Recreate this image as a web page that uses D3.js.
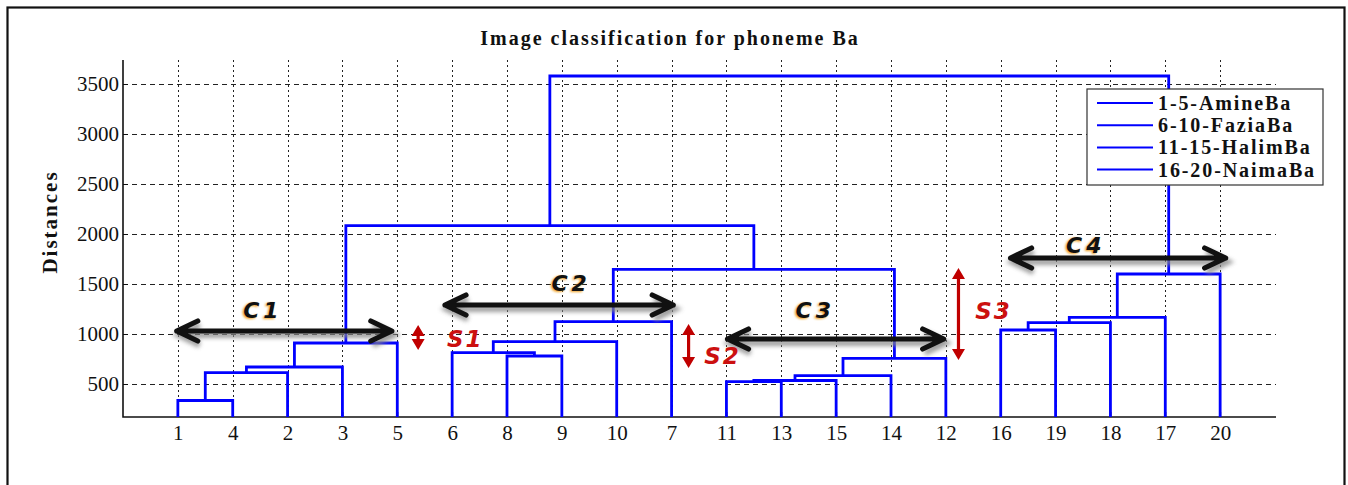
<!DOCTYPE html>
<html>
<head>
<meta charset="utf-8">
<script src="https://cdn.jsdelivr.net/npm/d3@7"></script>
<style>
  body { margin: 0; background: #fff; }
  svg { display: block; }
</style>
</head>
<body>
<script>
// leaf order along the x axis
var leafOrder = [1, 4, 2, 3, 5, 6, 8, 9, 10, 7, 11, 13, 15, 14, 12, 16, 19, 18, 17, 20];

// linkage: node 21 + i joins mergeA[i] and mergeB[i] at mergeHeight[i]
var mergeA = [1, 21, 22, 23, 8, 6, 26, 27, 11, 29, 30, 31, 28, 24, 16, 35, 36, 37, 34];
var mergeB = [4, 2, 3, 5, 9, 25, 10, 7, 13, 15, 14, 12, 32, 33, 19, 18, 17, 20, 38];
var mergeHeight = [335, 613, 670, 910, 780, 813, 923, 1123, 523, 535, 583, 757, 1647, 2083, 1040, 1113, 1167, 1600, 3580];

var yTicks = [500, 1000, 1500, 2000, 2500, 3000, 3500];
var legendLabels = ['1-5-AmineBa', '6-10-FaziaBa', '11-15-HalimBa', '16-20-NaimaBa'];

// cluster annotations (leaf-position units, distance units)
var clusterNames = ['C1', 'C2', 'C3', 'C4'];
var clusterFrom = [0.98, 5.87, 11.02, 16.18];
var clusterTo = [4.9, 10.03, 14.96, 20.1];
var clusterAt = [1030, 1290, 950, 1760];
var clusterLabelX = [2.55, 8.17, 12.62, 17.55];
var clusterLabelY = [1240, 1510, 1240, 1890];

var sepNames = ['S1', 'S2', 'S3'];
var sepX = [5.38, 10.31, 15.23];
var sepTop = [1090, 1100, 1660];
var sepBottom = [840, 660, 740];
var sepLabelX = [6.24, 10.93, 15.87];
var sepLabelY = [950, 780, 1230];

var W = 1348, H = 485;
var svg = d3.select('body').append('svg')
  .attr('width', W)
  .attr('height', H);

var defs = svg.append('defs');
defs.append('filter').attr('id', 'shadow')
  .attr('x', '-10%').attr('y', '-100%').attr('width', '120%').attr('height', '300%')
  .append('feGaussianBlur').attr('stdDeviation', 2.2);
defs.append('filter').attr('id', 'soft')
  .append('feGaussianBlur').attr('stdDeviation', 0.8);

// outer frame
svg.append('rect')
  .attr('x', 7.5).attr('y', 7.5)
  .attr('width', 1337).attr('height', 490)
  .attr('fill', 'white')
  .attr('stroke', '#111')
  .attr('stroke-width', 2.2);

var plotLeft = 123, plotRight = 1276, plotTop = 60, plotBottom = 417;

var x = d3.scaleLinear().domain([0, 21]).range([plotLeft, 1275]);
var y = d3.scaleLinear().domain([170, 3740]).range([plotBottom, plotTop]);

var serif = '"Liberation Serif", "Times New Roman", serif';

// grid
var grid = svg.append('g').attr('stroke', '#222').attr('stroke-width', 1);
grid.selectAll('line.h')
  .data(yTicks)
  .enter().append('line')
  .attr('class', 'h')
  .attr('x1', plotLeft).attr('x2', plotRight)
  .attr('y1', function (d) { return Math.round(y(d)) + 0.5; })
  .attr('y2', function (d) { return Math.round(y(d)) + 0.5; })
  .attr('stroke-dasharray', '5,4');
grid.selectAll('line.v')
  .data(leafOrder)
  .enter().append('line')
  .attr('class', 'v')
  .attr('x1', function (d, i) { return Math.round(x(i + 1)) + 0.5; })
  .attr('x2', function (d, i) { return Math.round(x(i + 1)) + 0.5; })
  .attr('y1', plotTop).attr('y2', plotBottom)
  .attr('stroke-dasharray', '2,3');

// axes
var yAxis = svg.append('g')
  .attr('transform', 'translate(' + plotLeft + ',0)')
  .call(d3.axisLeft(y).tickValues(yTicks).tickFormat(d3.format('d')).tickSize(-5).tickPadding(4));
var xAxis = svg.append('g')
  .attr('transform', 'translate(0,' + plotBottom + ')')
  .call(d3.axisBottom(x)
    .tickValues(d3.range(1, leafOrder.length + 1))
    .tickFormat(function (d) { return leafOrder[d - 1]; })
    .tickSize(-5).tickPadding(8));
[yAxis, xAxis].forEach(function (a) {
  a.select('.domain').remove();
  a.selectAll('.tick line').attr('stroke', '#111');
  a.selectAll('text')
    .attr('fill', '#111')
    .style('font-family', serif)
    .style('font-size', '21px');
});
svg.append('path')
  .attr('d', 'M' + plotLeft + ',' + plotTop + 'V' + plotBottom + 'H' + plotRight)
  .attr('fill', 'none')
  .attr('stroke', '#111')
  .attr('stroke-width', 1.6);

// dendrogram nodes
var nodeX = {}, nodeH = {};
leafOrder.forEach(function (leaf, i) {
  nodeX[leaf] = i + 1;
  nodeH[leaf] = y.domain()[0];
});
mergeA.forEach(function (a, i) {
  var b = mergeB[i], id = 21 + i;
  nodeX[id] = (nodeX[a] + nodeX[b]) / 2;
  nodeH[id] = mergeHeight[i];
});

svg.append('g')
  .selectAll('path')
  .data(mergeA)
  .enter().append('path')
  .attr('d', function (a, i) {
    var b = mergeB[i], h = mergeHeight[i];
    return 'M' + x(nodeX[a]) + ',' + y(nodeH[a]) +
      'V' + y(h) + 'H' + x(nodeX[b]) + 'V' + y(nodeH[b]);
  })
  .attr('fill', 'none')
  .attr('stroke', '#0000ff')
  .attr('stroke-width', 2.8)
  .attr('stroke-linejoin', 'miter');

// title
svg.append('text')
  .attr('x', 670)
  .attr('y', 45)
  .attr('text-anchor', 'middle')
  .style('font-family', serif)
  .style('font-weight', 'bold')
  .style('font-size', '20px')
  .style('letter-spacing', '2px')
  .attr('fill', '#111')
  .text('Image classification for phoneme Ba');

// y label
svg.append('text')
  .attr('transform', 'translate(57,' + 222 + ') rotate(-90)')
  .attr('text-anchor', 'middle')
  .style('font-family', serif)
  .style('font-weight', 'bold')
  .style('font-size', '21px')
  .style('letter-spacing', '2px')
  .attr('fill', '#111')
  .text('Distances');

// cluster arrows
function blackArrow(g, x1, x2, yy) {
  var d = 'M' + x1 + ',' + yy + 'H' + x2 +
    'M' + (x1 + 21) + ',' + (yy - 10) + 'L' + x1 + ',' + yy + 'L' + (x1 + 21) + ',' + (yy + 10) +
    'M' + (x2 - 21) + ',' + (yy - 10) + 'L' + x2 + ',' + yy + 'L' + (x2 - 21) + ',' + (yy + 10);
  g.append('path').attr('d', d)
    .attr('transform', 'translate(2,4)')
    .attr('fill', 'none').attr('stroke', '#888').attr('stroke-width', 6)
    .attr('filter', 'url(#shadow)').attr('opacity', 0.8);
  g.append('path').attr('d', d)
    .attr('fill', 'none').attr('stroke', '#111').attr('stroke-width', 5.2)
    .attr('stroke-linecap', 'round').attr('stroke-linejoin', 'round');
}

var ann = svg.append('g');
clusterNames.forEach(function (name, i) {
  blackArrow(ann, x(clusterFrom[i]), x(clusterTo[i]), y(clusterAt[i]));
  var lx = x(clusterLabelX[i]), ly = y(clusterLabelY[i]);
  var t = function (fill) {
    return ann.append('text')
      .attr('x', lx).attr('y', ly)
      .attr('dy', '0.36em')
      .attr('text-anchor', 'middle')
      .style('font-family', '"DejaVu Sans", Verdana, sans-serif')
      .style('font-weight', 'bold')
      .style('font-style', 'italic')
      .style('font-size', '22px')
      .style('letter-spacing', '4px')
      .attr('fill', fill)
      .text(name);
  };
  t('#f0a020').attr('transform', 'translate(-1.5,1.5)').attr('filter', 'url(#soft)');
  t('#111');
});

// separation arrows
sepNames.forEach(function (name, i) {
  var sx = x(sepX[i]), y1 = y(sepTop[i]), y2 = y(sepBottom[i]);
  ann.append('line')
    .attr('x1', sx).attr('x2', sx)
    .attr('y1', y1 + 8).attr('y2', y2 - 8)
    .attr('stroke', '#c00000').attr('stroke-width', 3.2);
  ann.append('path')
    .attr('d', 'M' + sx + ',' + y1 + 'L' + (sx - 6.5) + ',' + (y1 + 11) + 'L' + (sx + 6.5) + ',' + (y1 + 11) + 'Z' +
      'M' + sx + ',' + y2 + 'L' + (sx - 6.5) + ',' + (y2 - 11) + 'L' + (sx + 6.5) + ',' + (y2 - 11) + 'Z')
    .attr('fill', '#c00000');
  ann.append('text')
    .attr('x', x(sepLabelX[i])).attr('y', y(sepLabelY[i]))
    .attr('dy', '0.36em')
    .attr('text-anchor', 'middle')
    .style('font-family', '"DejaVu Sans", Verdana, sans-serif')
    .style('font-weight', 'bold')
    .style('font-style', 'italic')
    .style('font-size', '23px')
    .style('letter-spacing', '2px')
    .attr('fill', '#cc1010')
    .text(name);
});

// legend
var legend = svg.append('g').attr('transform', 'translate(1087,89)');
legend.append('rect')
  .attr('width', 236).attr('height', 96)
  .attr('fill', 'white')
  .attr('stroke', '#333')
  .attr('stroke-width', 1.2);
var rows = legend.selectAll('g.row')
  .data(legendLabels)
  .enter().append('g')
  .attr('class', 'row')
  .attr('transform', function (d, i) { return 'translate(0,' + (14 + i * 22.2) + ')'; });
rows.append('line')
  .attr('x1', 10).attr('x2', 66)
  .attr('stroke', '#0000ff').attr('stroke-width', 2);
rows.append('text')
  .attr('x', 71)
  .attr('dy', '0.35em')
  .style('font-family', serif)
  .style('font-weight', 'bold')
  .style('font-size', '20px')
  .style('letter-spacing', '1.9px')
  .attr('fill', '#111')
  .text(function (d) { return d; });
</script>
</body>
</html>
